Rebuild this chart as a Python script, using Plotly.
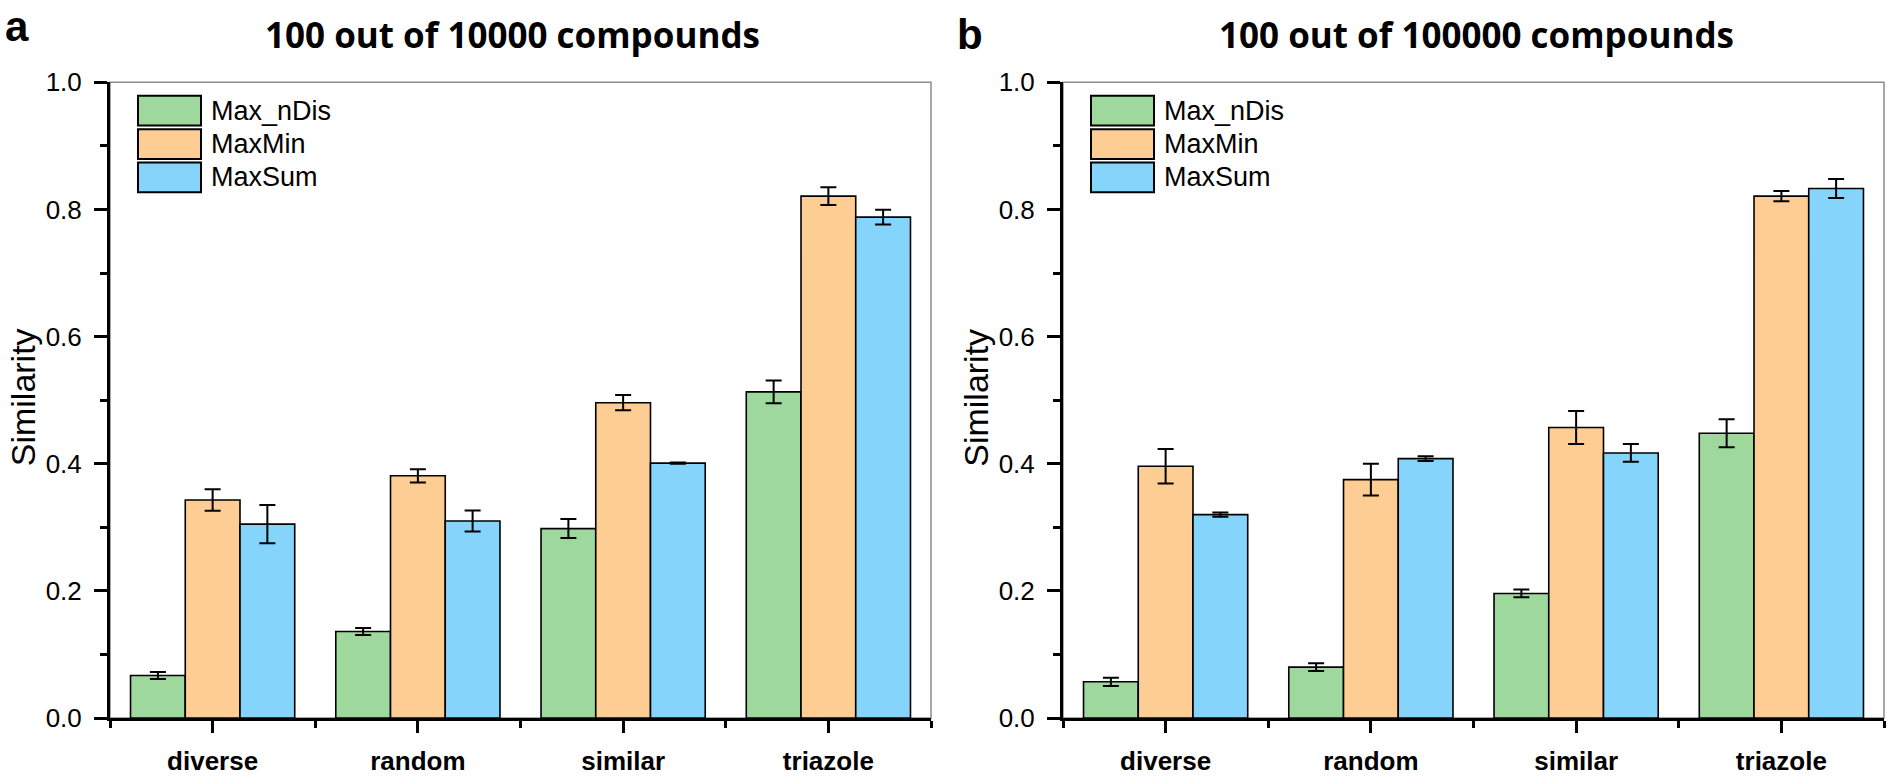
import plotly.graph_objects as go

# ---------------- data ----------------
categories = ["diverse", "random", "similar", "triazole"]
series_names = ["Max_nDis", "MaxMin", "MaxSum"]
colors = ["#9ED89C", "#FECD93", "#85D4FB"]

# panel a: 100 out of 10000 compounds
a_max_ndis = [0.067, 0.136, 0.298, 0.513]
a_max_ndis_err = [0.0055, 0.0055, 0.015, 0.018]
a_maxmin = [0.343, 0.381, 0.496, 0.821]
a_maxmin_err = [0.017, 0.0105, 0.012, 0.014]
a_maxsum = [0.305, 0.310, 0.401, 0.788]
a_maxsum_err = [0.030, 0.0165, 0.001, 0.0115]

# panel b: 100 out of 100000 compounds
b_max_ndis = [0.057, 0.080, 0.196, 0.448]
b_max_ndis_err = [0.0065, 0.006, 0.006, 0.022]
b_maxmin = [0.396, 0.375, 0.457, 0.821]
b_maxmin_err = [0.027, 0.025, 0.026, 0.008]
b_maxsum = [0.320, 0.408, 0.417, 0.833]
b_maxsum_err = [0.0033, 0.0038, 0.014, 0.015]

panel_titles = ["100 out of 10000 compounds", "100 out of 100000 compounds"]
panel_labels = ["a", "b"]
y_title = "Similarity"
y_ticks = [0.0, 0.2, 0.4, 0.6, 0.8, 1.0]

W, H = 1889, 784
ARIAL = "Liberation Sans, Arial, sans-serif"

panels = [
    ([a_max_ndis, a_maxmin, a_maxsum], [a_max_ndis_err, a_maxmin_err, a_maxsum_err]),
    ([b_max_ndis, b_maxmin, b_maxsum], [b_max_ndis_err, b_maxmin_err, b_maxsum_err]),
]

x_pos = list(range(len(categories)))

fig = go.Figure()
for p, (vals, errs) in enumerate(panels):
    xa = "x" if p == 0 else "x2"
    ya = "y" if p == 0 else "y2"
    for s in range(len(series_names)):
        fig.add_trace(go.Bar(
            x=x_pos, y=vals[s], name=series_names[s],
            xaxis=xa, yaxis=ya,
            marker=dict(color=colors[s], line=dict(color="black", width=1.6)),
            error_y=dict(type="data", array=errs[s], visible=True,
                         color="black", thickness=2, width=8),
            showlegend=False,
        ))

# pixel geometry -> paper fractions
def px_x(v):
    return v / W

def px_y(v):
    return 1 - v / H

x_domains = [[px_x(110), px_x(931)], [px_x(1063), px_x(1884)]]
y_domain = [px_y(731), px_y(70)]

axis_common = dict(
    showline=True, linecolor="black", linewidth=3,
    ticks="outside", tickcolor="black", tickwidth=2.5,
    showgrid=False, zeroline=False, mirror=False,
)

layout_axes = {}
for p in range(2):
    sfx = "" if p == 0 else "2"
    layout_axes["xaxis" + sfx] = dict(
        axis_common, domain=x_domains[p], range=[-0.5, len(categories) - 0.5],
        tickmode="array", tickvals=x_pos, ticktext=categories, ticklen=12,
        tickfont=dict(family=ARIAL, size=26, color="black", weight="bold"),
        ticklabelstandoff=6,
        minor=dict(tickmode="array",
                   tickvals=[i - 0.5 for i in range(len(categories) + 1)],
                   ticks="outside", ticklen=7, tickwidth=2.5, tickcolor="black"),
        anchor="y" + sfx, fixedrange=True,
    )
    layout_axes["yaxis" + sfx] = dict(
        axis_common, domain=y_domain, range=[0, 1],
        tickmode="array", tickvals=y_ticks,
        ticktext=["%.1f" % v for v in y_ticks], ticklen=13,
        tickfont=dict(family=ARIAL, size=26, color="black"),
        ticklabelstandoff=7,
        minor=dict(dtick=0.1, tick0=0, ticks="outside", ticklen=7,
                   tickwidth=2.5, tickcolor="black"),
        anchor="x" + sfx, fixedrange=True,
    )

shapes = []
annotations = []
for p in range(2):
    sfx = "" if p == 0 else "2"
    xr, yr = "x" + sfx + " domain", "y" + sfx + " domain"
    # thin grey frame (top / right)
    shapes.append(dict(type="rect", xref=xr, yref=yr, x0=0, x1=1, y0=0, y1=1,
                       line=dict(color="#8c8c8c", width=1.5), layer="below"))
    # custom legend
    plot_w = 821.0
    plot_h = 661.0
    for s, name in enumerate(series_names):
        top = 84 + s * 34.7
        bot = top + 31
        shapes.append(dict(type="rect", xref=xr, yref=yr,
                           x0=28 / plot_w, x1=91 / plot_w,
                           y0=1 - (bot - 70) / plot_h, y1=1 - (top - 70) / plot_h,
                           fillcolor=colors[s], line=dict(color="black", width=2),
                           layer="above"))
        annotations.append(dict(xref=xr, yref=yr, x=99 / plot_w,
                                y=1 - ((top + bot) / 2 - 70) / plot_h,
                                xanchor="left", yanchor="middle", showarrow=False,
                                text=name, font=dict(family=ARIAL, size=27, color="black")))

# titles
annotations.append(dict(xref="paper", yref="paper", x=px_x(512), y=px_y(20),
                        xanchor="center", yanchor="middle", showarrow=False,
                        text="<b>%s</b>" % panel_titles[0],
                        font=dict(family="Open Sans, sans-serif", size=35, color="black")))
annotations.append(dict(xref="paper", yref="paper", x=px_x(1476), y=px_y(20),
                        xanchor="center", yanchor="middle", showarrow=False,
                        text="<b>%s</b>" % panel_titles[1],
                        font=dict(family="Open Sans, sans-serif", size=35, color="black")))
# panel letters
annotations.append(dict(xref="paper", yref="paper", x=px_x(3), y=px_y(12),
                        xanchor="left", yanchor="middle", showarrow=False,
                        text="<b>%s</b>" % panel_labels[0],
                        font=dict(family=ARIAL, size=42, color="black")))
annotations.append(dict(xref="paper", yref="paper", x=px_x(955), y=px_y(20),
                        xanchor="left", yanchor="middle", showarrow=False,
                        text="<b>%s</b>" % panel_labels[1],
                        font=dict(family=ARIAL, size=42, color="black")))
# y titles
for xc in (22.5, 976):
    annotations.append(dict(xref="paper", yref="paper", x=px_x(xc), y=px_y(398),
                            xanchor="center", yanchor="middle", showarrow=False,
                            textangle=-90, text=y_title,
                            font=dict(family=ARIAL, size=34, color="black")))

fig.update_layout(
    width=W, height=H, autosize=False,
    margin=dict(l=0, r=0, t=0, b=0, pad=0),
    paper_bgcolor="white", plot_bgcolor="white",
    barmode="group", bargap=0.2, bargroupgap=0,
    shapes=shapes, annotations=annotations,
    showlegend=False,
    **layout_axes,
)

fig.write_html("out.html", config={"displayModeBar": False},
               post_script="document.body.style.margin='0';document.body.style.overflow='hidden';")
